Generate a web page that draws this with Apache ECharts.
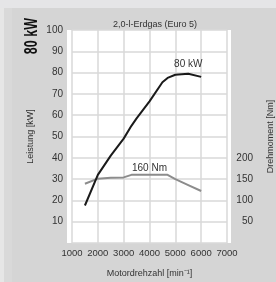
<!DOCTYPE html>
<html><head><meta charset="utf-8">
<script src="https://cdn.jsdelivr.net/npm/echarts@6/dist/echarts.min.js"></script>
<style>html,body{margin:0;padding:0;background:#d5d5d5}#c{width:276px;height:282px}</style>
</head><body><div id="c"></div>
<script>
const rpm = [1500, 2000, 2500, 3000, 3300, 3500, 4000, 4500, 4700, 5000, 5500, 6000];
const powerKW = [17.6, 32, 41, 49, 55, 58.5, 66.5, 75.5, 77.5, 79, 79.5, 78];
const torqueNm = [139, 151, 153, 154, 160, 160, 160, 160, 160, 150, 136, 122];
const xTicks = [1000, 2000, 3000, 4000, 5000, 6000, 7000];
const leftTicks = [10, 20, 30, 40, 50, 60, 70, 80, 90, 100];
const rightTicks = [50, 100, 150, 200];
const title = '2,0-l-Erdgas (Euro 5)';
const powerLabel = '80 kW';
const torqueLabel = '160 Nm';
const powerLabelAt = 5500;
const torqueLabelAt = 4000;

const F = '"Liberation Sans", Arial, sans-serif';
const txt = '#333333';
const gridCol = '#d9d9d9';
const lbl = (text, dist) => ({show: true, formatter: text, position: 'top', distance: dist, fontFamily: F, fontSize: 10, color: txt});
const chart = echarts.init(document.getElementById('c'), null, {renderer: 'canvas'});
chart.setOption({
  animation: false,
  backgroundColor: '#d5d5d5',
  graphic: [
    {type: 'rect', z: -10, shape: {x: 0, y: 0, width: 276, height: 8}, style: {fill: '#e5e5e7'}},
    {type: 'rect', z: -10, shape: {x: 0, y: 8, width: 4, height: 274}, style: {fill: '#e6e6e6'}},
    {type: 'rect', z: -10, shape: {x: 4, y: 8, width: 8, height: 274}, style: {fill: '#d9d9d9'}},
    {type: 'rect', z: -9, shape: {x: 67, y: 30, width: 164, height: 213}, style: {fill: '#ffffff'}},
    {type: 'text', left: 22, top: 18, rotation: Math.PI / 2, scaleX: 0.66,
      style: {text: '80 kW', font: 'bold 19px ' + F, fill: '#111'}, z: 5}
  ],
  title: {
    text: title, left: 150, top: 15, textAlign: 'center',
    textStyle: {fontFamily: F, fontSize: 9, fontWeight: 'normal', color: txt}
  },
  grid: {left: 72, right: 49, top: 30, bottom: 39, show: false, outerBoundsMode: 'none'},
  xAxis: {
    type: 'value', min: 1000, max: 7000, interval: 1000,
    name: 'Motordrehzahl [min⁻¹]', nameLocation: 'middle', nameGap: 26,
    nameTextStyle: {fontFamily: F, fontSize: 9, color: txt},
    axisLine: {show: false}, axisTick: {show: false},
    axisLabel: {fontFamily: F, fontSize: 9.5, color: txt, margin: 5, showMinLabel: true, showMaxLabel: true, hideOverlap: false,
      formatter: v => xTicks.includes(v) ? String(v) : ''},
    splitLine: {show: true, showMinLine: true, showMaxLine: true, lineStyle: {color: gridCol, width: 1.5, type: 'solid'}}
  },
  yAxis: [
    {
      type: 'value', min: 0, max: 100, interval: 10, offset: 5,
      name: 'Leistung [kW]', nameLocation: 'middle', nameGap: 31, nameRotate: 90,
      nameTextStyle: {fontFamily: F, fontSize: 9, color: txt},
      axisLine: {show: false}, axisTick: {show: false},
      axisLabel: {fontFamily: F, fontSize: 10, color: txt, margin: 4,
        formatter: v => leftTicks.includes(v) ? String(v) : ''},
      splitLine: {show: true, lineStyle: {color: gridCol, width: 1.5}}
    },
    {
      type: 'value', min: 0, max: 500, interval: 50, position: 'right',
      name: 'Drehmoment [Nm]', nameLocation: 'middle', nameGap: 39, nameRotate: 90,
      nameTextStyle: {fontFamily: F, fontSize: 9, color: txt},
      axisLine: {show: false}, axisTick: {show: false},
      axisLabel: {fontFamily: F, fontSize: 10, color: txt, margin: 26, align: 'right',
        formatter: v => rightTicks.includes(v) ? String(v) : ''},
      splitLine: {show: false}
    }
  ],
  series: [
    {
      type: 'line', yAxisIndex: 0, showSymbol: true, symbol: 'circle', symbolSize: 0,
      itemStyle: {borderWidth: 0, color: '#1a1a1a'},
      lineStyle: {color: '#1a1a1a', width: 2},
      data: rpm.map((r, i) => r === powerLabelAt
        ? {value: [r, powerKW[i]], label: lbl(powerLabel, 4)}
        : [r, powerKW[i]]),
      z: 4
    },
    {
      type: 'line', yAxisIndex: 1, showSymbol: true, symbol: 'circle', symbolSize: 0,
      itemStyle: {borderWidth: 0, color: '#8c8c8c'},
      lineStyle: {color: '#8c8c8c', width: 2},
      data: rpm.map((r, i) => r === torqueLabelAt
        ? {value: [r, torqueNm[i]], label: lbl(torqueLabel, 2)}
        : [r, torqueNm[i]]),
      z: 3
    }
  ]
});
</script></body></html>
